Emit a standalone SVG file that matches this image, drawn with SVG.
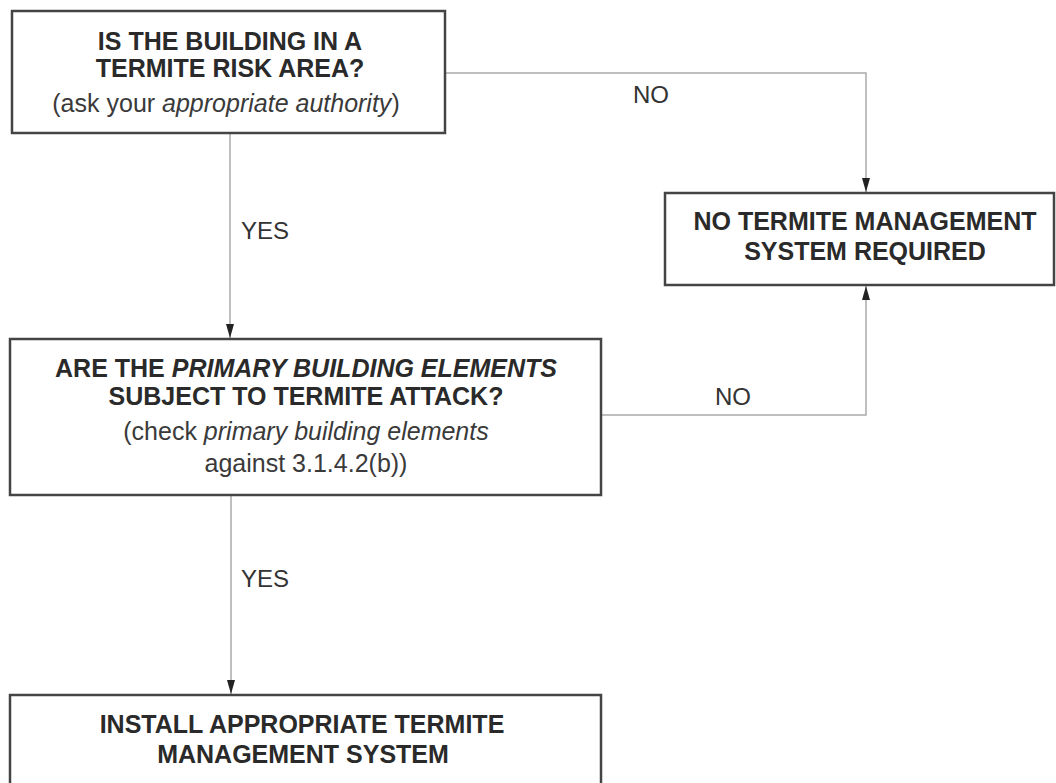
<svg xmlns="http://www.w3.org/2000/svg" width="1056" height="783" viewBox="0 0 1056 783">
<style>
.box{fill:#fff;stroke:#444;stroke-width:2.5}
.conn{fill:none;stroke:#aaa;stroke-width:1.5}
.t{font-family:"Liberation Sans",Arial,sans-serif;font-size:25px;fill:#2a2a2a;text-anchor:middle}
.b{font-weight:bold}
.n{fill:#3a3a3a}
.i{font-style:italic}
.lbl{font-family:"Liberation Sans",Arial,sans-serif;font-size:24px;fill:#333}
</style>
<defs>
<marker id="arr" markerWidth="14" markerHeight="8" refX="14" refY="4" orient="auto" markerUnits="userSpaceOnUse" viewBox="0 0 14 8">
<path d="M0,0 L14,4 L0,8 Z" fill="#222"/>
</marker>
</defs>
<rect width="1056" height="783" fill="#fff"/>
<g id="connectors">
<path class="conn" d="M230,134 V338" marker-end="url(#arr)"/>
<path class="conn" d="M231,495 V694" marker-end="url(#arr)"/>
<path class="conn" d="M445,73 H866 V192" marker-end="url(#arr)"/>
<path class="conn" d="M601,415 H866 V286" marker-end="url(#arr)"/>
<text class="lbl" x="241" y="239">YES</text>
<text class="lbl" x="241" y="587">YES</text>
<text class="lbl" x="633" y="103">NO</text>
<text class="lbl" x="715" y="405">NO</text>
</g>
<g id="node-risk-area">
<rect class="box" x="12" y="11" width="433" height="122"/>
<text class="t b" x="230" y="50">IS THE BUILDING IN A</text>
<text class="t b" x="230" y="77">TERMITE RISK AREA?</text>
<text class="t n" x="226" y="112">(ask your <tspan class="i">appropriate authority</tspan>)</text>
</g>
<g id="node-no-system">
<rect class="box" x="665" y="193" width="389" height="92"/>
<text class="t b" x="865" y="230">NO TERMITE MANAGEMENT</text>
<text class="t b" x="865" y="260">SYSTEM REQUIRED</text>
</g>
<g id="node-primary-elements">
<rect class="box" x="10" y="339" width="591" height="156"/>
<text class="t b" x="306" y="377">ARE THE <tspan class="i">PRIMARY BUILDING ELEMENTS</tspan></text>
<text class="t b" x="306" y="405">SUBJECT TO TERMITE ATTACK?</text>
<text class="t n" x="306" y="440">(check <tspan class="i">primary building elements</tspan></text>
<text class="t n" x="306" y="472">against 3.1.4.2(b))</text>
</g>
<g id="node-install">
<rect class="box" x="10" y="695" width="591" height="110"/>
<text class="t b" x="302" y="733">INSTALL APPROPRIATE TERMITE</text>
<text class="t b" x="303" y="763">MANAGEMENT SYSTEM</text>
</g>
</svg>
